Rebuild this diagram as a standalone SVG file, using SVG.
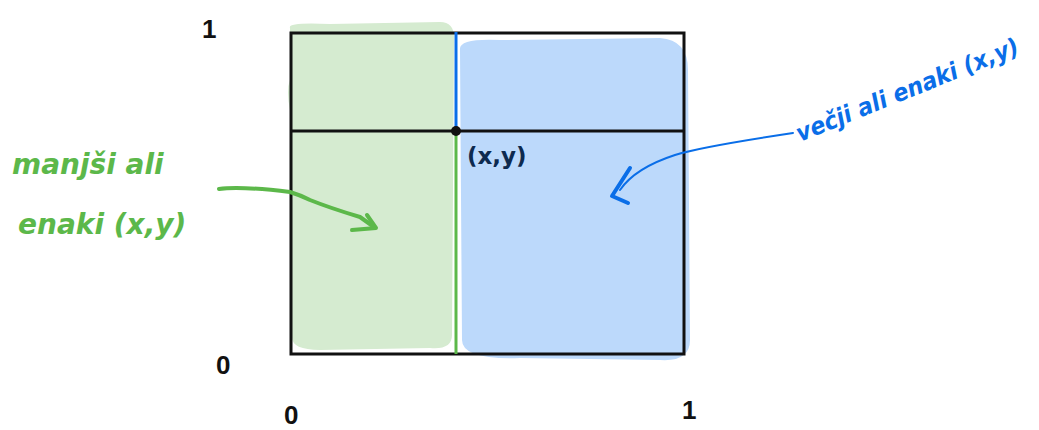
<svg xmlns="http://www.w3.org/2000/svg" width="1039" height="430" viewBox="0 0 1039 430">
<style>
.frame{fill:none;stroke:#111;stroke-width:3}
.ax{font-family:"Liberation Sans",sans-serif;font-weight:bold;font-size:26px;fill:#111}
.g{font-family:"DejaVu Sans",sans-serif;font-style:italic;font-weight:bold;font-size:28px;fill:#5cb84a}
.b{font-family:"DejaVu Sans",sans-serif;font-style:italic;font-weight:bold;font-size:24px;fill:#0a6ee8}
.pt{font-family:"DejaVu Sans",sans-serif;font-weight:bold;font-size:23px;fill:#0d2a4f}
</style>
<rect width="1039" height="430" fill="#fff"/>
<g id="fills">
<path d="M290,28 Q287,22 330,24 L440,22 Q455,22 454,40 L452,335 Q452,350 430,348 L320,350 Q290,350 292,335 L290,110 Q286,90 290,80 Z" fill="#d5ebd0"/>
<path d="M460,50 Q458,38 500,40 L660,38 Q688,40 688,70 L690,340 Q690,362 660,360 L520,358 Q462,360 462,340 Z" fill="#bcd9fb"/>
</g>
<g id="square">
<rect class="frame" x="291" y="33" width="393" height="321"/>
<line x1="291" y1="131" x2="684" y2="131" stroke="#111" stroke-width="3"/>
<line x1="456" y1="32" x2="456" y2="131" stroke="#0a6ee8" stroke-width="3"/>
<line x1="456" y1="131" x2="456" y2="354" stroke="#5cb84a" stroke-width="3"/>
<circle cx="456" cy="131" r="5" fill="#111"/>
<text class="pt" x="467" y="164">(x,y)</text>
</g>
<g id="axes">
<text class="ax" x="202" y="38">1</text>
<text class="ax" x="216" y="374">0</text>
<text class="ax" x="284" y="424">0</text>
<text class="ax" x="682" y="419">1</text>
</g>
<g id="label-left">
<text class="g" x="12" y="174">manjši ali</text>
<text class="g" x="18" y="234">enaki (x,y)</text>
</g>
<g id="label-right">
<text class="b" transform="translate(800,142) rotate(-22)" textLength="238" lengthAdjust="spacingAndGlyphs">večji ali enaki (x,y)</text>
</g>
<g id="connectors" fill="none" stroke-linecap="round" stroke-linejoin="round">
<path d="M219,189 Q240,186 290,192 Q300,195 310,200 Q330,208 360,217 L374,227" stroke="#5cb84a" stroke-width="4"/>
<path d="M352,230 L376,228 L367,215" stroke="#5cb84a" stroke-width="4"/>
<path d="M793,133 Q700,147 675,155 Q635,168 620,190" stroke="#0a6ee8" stroke-width="2"/>
<path d="M630,168 L612,196 L628,203" stroke="#0a6ee8" stroke-width="4"/>
</g>
</svg>
